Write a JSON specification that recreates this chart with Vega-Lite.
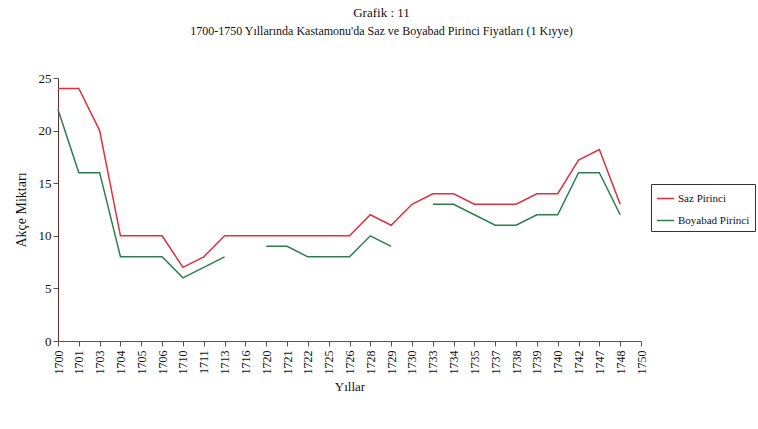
{
  "$schema": "https://vega.github.io/schema/vega-lite/v6.json",
  "width": 583,
  "height": 263,
  "autosize": "none",
  "padding": {"left": 58, "top": 78, "right": 117, "bottom": 88},
  "background": "white",
  "title": {
    "text": "Grafik : 11",
    "subtitle": "1700-1750 Yıllarında Kastamonu'da Saz ve Boyabad Pirinci Fiyatları (1 Kıyye)",
    "anchor": "middle",
    "dx": 32,
    "offset": 35,
    "font": "Liberation Serif",
    "fontSize": 13,
    "fontWeight": "normal",
    "color": "#111",
    "subtitleFont": "Liberation Serif",
    "subtitleFontSize": 12,
    "subtitleColor": "#111",
    "subtitlePadding": 6
  },
  "data": {
    "values": [
      {"year": "1700", "series": "Saz Pirinci", "price": 24},
      {"year": "1701", "series": "Saz Pirinci", "price": 24},
      {"year": "1703", "series": "Saz Pirinci", "price": 20},
      {"year": "1704", "series": "Saz Pirinci", "price": 10},
      {"year": "1705", "series": "Saz Pirinci", "price": 10},
      {"year": "1706", "series": "Saz Pirinci", "price": 10},
      {"year": "1710", "series": "Saz Pirinci", "price": 7},
      {"year": "1711", "series": "Saz Pirinci", "price": 8},
      {"year": "1713", "series": "Saz Pirinci", "price": 10},
      {"year": "1716", "series": "Saz Pirinci", "price": 10},
      {"year": "1720", "series": "Saz Pirinci", "price": 10},
      {"year": "1721", "series": "Saz Pirinci", "price": 10},
      {"year": "1722", "series": "Saz Pirinci", "price": 10},
      {"year": "1725", "series": "Saz Pirinci", "price": 10},
      {"year": "1726", "series": "Saz Pirinci", "price": 10},
      {"year": "1728", "series": "Saz Pirinci", "price": 12},
      {"year": "1729", "series": "Saz Pirinci", "price": 11},
      {"year": "1730", "series": "Saz Pirinci", "price": 13},
      {"year": "1733", "series": "Saz Pirinci", "price": 14},
      {"year": "1734", "series": "Saz Pirinci", "price": 14},
      {"year": "1735", "series": "Saz Pirinci", "price": 13},
      {"year": "1737", "series": "Saz Pirinci", "price": 13},
      {"year": "1738", "series": "Saz Pirinci", "price": 13},
      {"year": "1739", "series": "Saz Pirinci", "price": 14},
      {"year": "1740", "series": "Saz Pirinci", "price": 14},
      {"year": "1742", "series": "Saz Pirinci", "price": 17.2},
      {"year": "1747", "series": "Saz Pirinci", "price": 18.2},
      {"year": "1748", "series": "Saz Pirinci", "price": 13},
      {"year": "1750", "series": "Saz Pirinci", "price": null},
      {"year": "1700", "series": "Boyabad Pirinci", "price": 22},
      {"year": "1701", "series": "Boyabad Pirinci", "price": 16},
      {"year": "1703", "series": "Boyabad Pirinci", "price": 16},
      {"year": "1704", "series": "Boyabad Pirinci", "price": 8},
      {"year": "1705", "series": "Boyabad Pirinci", "price": 8},
      {"year": "1706", "series": "Boyabad Pirinci", "price": 8},
      {"year": "1710", "series": "Boyabad Pirinci", "price": 6},
      {"year": "1711", "series": "Boyabad Pirinci", "price": 7},
      {"year": "1713", "series": "Boyabad Pirinci", "price": 8},
      {"year": "1716", "series": "Boyabad Pirinci", "price": null},
      {"year": "1720", "series": "Boyabad Pirinci", "price": 9},
      {"year": "1721", "series": "Boyabad Pirinci", "price": 9},
      {"year": "1722", "series": "Boyabad Pirinci", "price": 8},
      {"year": "1725", "series": "Boyabad Pirinci", "price": 8},
      {"year": "1726", "series": "Boyabad Pirinci", "price": 8},
      {"year": "1728", "series": "Boyabad Pirinci", "price": 10},
      {"year": "1729", "series": "Boyabad Pirinci", "price": 9},
      {"year": "1730", "series": "Boyabad Pirinci", "price": null},
      {"year": "1733", "series": "Boyabad Pirinci", "price": 13},
      {"year": "1734", "series": "Boyabad Pirinci", "price": 13},
      {"year": "1735", "series": "Boyabad Pirinci", "price": 12},
      {"year": "1737", "series": "Boyabad Pirinci", "price": 11},
      {"year": "1738", "series": "Boyabad Pirinci", "price": 11},
      {"year": "1739", "series": "Boyabad Pirinci", "price": 12},
      {"year": "1740", "series": "Boyabad Pirinci", "price": 12},
      {"year": "1742", "series": "Boyabad Pirinci", "price": 16},
      {"year": "1747", "series": "Boyabad Pirinci", "price": 16},
      {"year": "1748", "series": "Boyabad Pirinci", "price": 12},
      {"year": "1750", "series": "Boyabad Pirinci", "price": null}
    ]
  },
  "mark": {"type": "line", "strokeWidth": 1.5, "invalid": "break-paths-show-domains"},
  "encoding": {
    "x": {
      "field": "year",
      "type": "ordinal",
      "sort": null,
      "scale": {"type": "point", "padding": 0},
      "axis": {
        "title": "Yıllar",
        "titleFont": "Liberation Serif",
        "titleFontSize": 13,
        "titleFontWeight": "normal",
        "titleColor": "#111",
        "titlePadding": 6,
        "labelAngle": -90,
        "labelFont": "Liberation Serif",
        "labelFontSize": 12,
        "labelColor": "#111",
        "labelPadding": 4,
        "domainColor": "#555",
        "tickColor": "#555",
        "tickSize": 5,
        "grid": false
      }
    },
    "y": {
      "field": "price",
      "type": "quantitative",
      "scale": {"domain": [0, 25], "nice": false},
      "axis": {
        "title": "Akçe Miktarı",
        "titleFont": "Liberation Serif",
        "titleFontSize": 14,
        "titleFontWeight": "normal",
        "titleColor": "#111",
        "titlePadding": 10,
        "values": [0, 5, 10, 15, 20, 25],
        "labelFont": "Liberation Serif",
        "labelFontSize": 13,
        "labelColor": "#111",
        "domainColor": "#6a2a2a",
        "tickColor": "#555",
        "tickSize": 5,
        "grid": false
      }
    },
    "color": {
      "field": "series",
      "type": "nominal",
      "scale": {"domain": ["Saz Pirinci", "Boyabad Pirinci"], "range": ["#e0303c", "#2e7d4f"]},
      "legend": {
        "title": null,
        "orient": "none",
        "legendX": 593,
        "legendY": 106,
        "symbolType": "stroke",
        "symbolSize": 300,
        "symbolStrokeWidth": 1.5,
        "labelFont": "Liberation Serif",
        "labelFontSize": 11,
        "labelOffset": 3,
        "labelColor": "#111",
        "strokeColor": "#333",
        "padding": 5,
        "rowPadding": 7
      }
    }
  },
  "config": {"view": {"stroke": null}}
}
